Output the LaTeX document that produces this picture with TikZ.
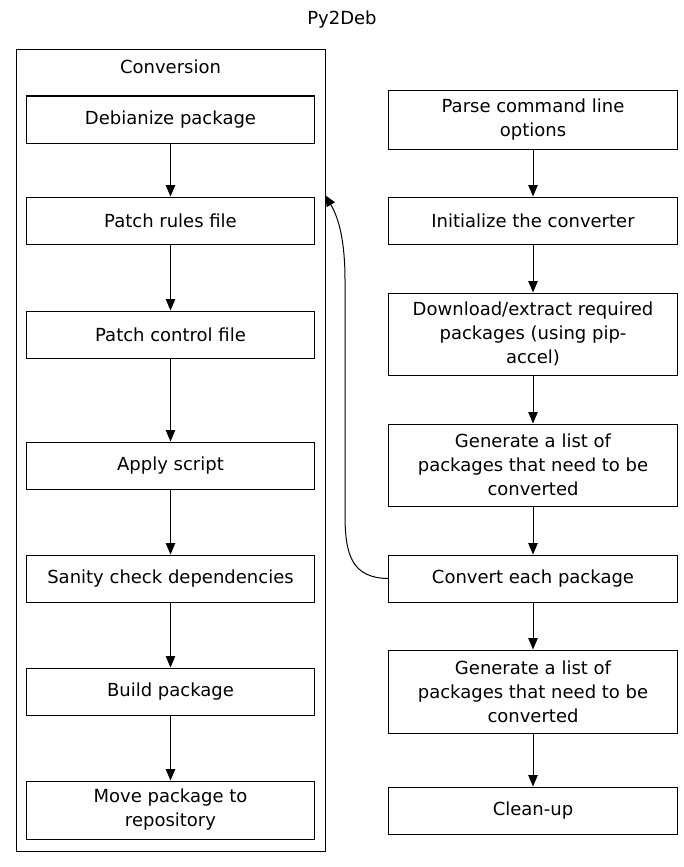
\documentclass[tikz,border=0pt]{standalone}
\usepackage{fontspec}
\setmainfont{DejaVu Sans}
\usepackage{tikz}
\usetikzlibrary{arrows.meta}

\tikzset{
  box/.style={draw, line width=0.75pt, align=center, inner sep=0pt,
    minimum width=216.5pt, minimum height=35.25pt},
  flow/.style={-{Triangle[length=8.5pt,width=7pt]}, line width=0.75pt}
}

\begin{document}
\begin{tikzpicture}[x=0.75pt,y=-0.75pt,font=\fontsize{13.5}{18}\selectfont]
        \useasboundingbox (0,0) rectangle (683,867);
        %タイトル
        \node (title) at (342,20) {Py2Deb};
        %クラスタ
        \node (conversion) [draw, line width=0.75pt, minimum width=231.75pt, minimum height=600.75pt] at (170.5,450.5) {};
        \node (convlabel) at (170.5,67) {Conversion};
        %左の列
        \node (debianize) [box] at (170.5,119.5) {Debianize package};
        \node (rules) [box] at (170.5,220.5) {Patch rules file};
        \node (control) [box] at (170.5,334.5) {Patch control file};
        \node (script) [box] at (170.5,465.5) {Apply script};
        \node (sanity) [box] at (170.5,578.5) {Sanity check dependencies};
        \node (build) [box] at (170.5,691.5) {Build package};
        \node (move) [box, minimum height=43.5pt] at (170.5,810) {Move package to\\repository};
        %右の列
        \node (parse) [box, minimum height=43.5pt] at (533,120) {Parse command line\\options};
        \node (init) [box] at (533,220.5) {Initialize the converter};
        \node (download) [box, minimum height=61.5pt] at (533,334) {Download/extract required\\packages (using pip-\\accel)};
        \node (listA) [box, minimum height=61.5pt] at (533,465) {Generate a list of\\packages that need to be\\converted};
        \node (convert) [box] at (533,578.5) {Convert each package};
        \node (listB) [box, minimum height=62.25pt] at (533,691.5) {Generate a list of\\packages that need to be\\converted};
        \node (cleanup) [box] at (533,810.5) {Clean-up};
        %矢印
        \foreach \a/\b in {debianize/rules, rules/control, control/script, script/sanity, sanity/build, build/move,
                           parse/init, init/download, download/listA, listA/convert, convert/listB, listB/cleanup}
            \draw[flow] (\a) -- (\b);
        %クラスタへの矢印
        \coordinate (entry) at (325,195);
        \draw[flow] (convert.west) .. controls (352,578) and (345,555) .. (345,515)
            -- (345,280) .. controls (345,245) and (340,220) .. (entry);
\end{tikzpicture}
\end{document}
